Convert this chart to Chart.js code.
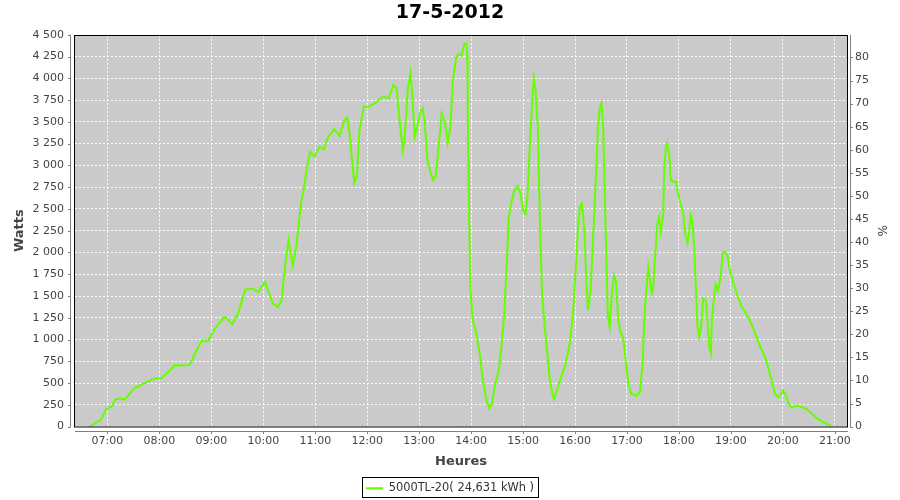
<!DOCTYPE html>
<html><head><meta charset="utf-8">
<script src="https://cdn.jsdelivr.net/npm/chart.js@4.4.1/dist/chart.umd.min.js"></script>
<style>html,body{margin:0;padding:0;background:#fff}#wrap{width:900px;height:500px}</style>
</head><body><div id="wrap"><canvas id="c" width="900" height="500"></canvas></div>
<script>
const chartTitle = '17-5-2012';
const seriesLabel = '5000TL-20( 24,631 kWh )';
const xTitle = 'Heures';
const yTitle = 'Watts';
const y2Title = '%';
const ratedPower = 5300; // W, 100 % on the right axis

const times = [
 '06:39','06:45','06:53','06:59','07:05','07:09','07:14','07:20','07:30','07:43','07:53',
 '08:02','08:10','08:18','08:25','08:35','08:41','08:49','08:56','09:04','09:14','09:17',
 '09:24','09:31','09:39','09:48','09:54','10:02','10:11','10:17','10:21','10:26','10:29',
 '10:34','10:38','10:41','10:44','10:46','10:50','10:54','10:59','11:05','11:10','11:15',
 '11:22','11:28','11:34','11:37','11:40','11:42','11:45','11:48','11:51','11:56','12:01',
 '12:09','12:18','12:25','12:30','12:34','12:37','12:41','12:43','12:47','12:50','12:52',
 '12:55','12:57','13:01','13:04','13:06','13:10','13:16','13:19','13:24','13:26','13:30',
 '13:33','13:36','13:39','13:43','13:46','13:49','13:52','13:54:30','13:55:30','13:56:00',
 '13:56:30','13:57:30','13:59:00','14:01:30','14:06','14:10','14:13','14:17','14:21','14:24',
 '14:27','14:32','14:35','14:38','14:41','14:43:30','14:47','14:50','14:54','14:57','15:00',
 '15:03','15:05','15:07','15:09','15:11','15:12:30','15:14:30','15:17','15:18:30','15:20',
 '15:22','15:25','15:28','15:31','15:33','15:35:30','15:39','15:44','15:49','15:54','15:58',
 '16:01','16:03:30','16:05:30','16:08','16:11','16:13','16:15','16:18','16:20','16:23',
 '16:25','16:26:30','16:28:30','16:30:30','16:32:30','16:34:30','16:36:30','16:38','16:40',
 '16:42','16:45','16:47','16:50','16:52:30','16:55:30','16:58:30','17:01:30','17:05','17:11',
 '17:15','17:18','17:20','17:22','17:24:30','17:26:30','17:28:30','17:30','17:32','17:35',
 '17:37','17:39','17:42','17:43','17:45','17:46:30','17:49','17:50:30','17:53:30','17:56:30',
 '17:59','18:02','18:05','18:07','18:10','18:12','18:13:30','18:15:30','18:18','18:20',
 '18:21:30','18:23:30','18:25:30','18:28','18:31','18:33','18:35','18:37','18:38','18:41',
 '18:42:30','18:45','18:47','18:48:30','18:50:30','18:53','18:56','18:58','19:03','19:07:30',
 '19:12:30','19:16:30','19:22','19:28','19:34','19:39:30','19:43','19:47','19:51','19:55',
 '19:58','20:00:30','20:03:30','20:06:30','20:10:30','20:16','20:22','20:27:30','20:33:30',
 '20:39:30','20:45','20:51','20:55:30'
];
const watts = [
 0,31,88,204,230,311,326,311,434,499,549,
 556,625,706,702,706,837,990,982,1124,1247,1251,
 1174,1304,1573,1585,1546,1661,1412,1373,1450,1911,2141,
 1853,2064,2333,2601,2678,2947,3157,3100,3215,3185,3330,
 3415,3338,3530,3553,3330,3100,2800,2870,3407,3675,3668,
 3714,3790,3772,3925,3887,3560,3177,3292,3887,4067,3790,
 3330,3407,3599,3657,3522,3024,2831,2870,3369,3599,3484,
 3254,3445,3982,4251,4282,4259,4397,4405,4270,3982,
 3082,2524,1642,1240,1067,837,568,337,211,261,
 452,645,913,1258,1834,2409,2601,2716,2763,2678,2486,
 2440,2639,3061,3445,3829,4002,3848,3445,2755,2141,
 1527,1143,837,529,414,319,414,568,721,952,1335,
 1834,2294,2524,2563,2218,1681,1335,1565,1988,2601,
 3061,3445,3657,3714,3445,2601,1796,1258,1143,
 1450,1738,1681,1220,1085,1028,760,491,376,357,
 395,721,1220,1527,1834,1681,1527,1565,1873,2333,
 2409,2236,2448,2985,3215,3254,3100,2831,2812,2812,
 2678,2563,2448,2218,2110,2256,2429,2371,1988,1488,
 1143,1028,1143,1470,1450,1220,913,837,1220,1527,
 1634,1565,1661,1757,1988,2007,1968,1834,1642,1508,
 1373,1316,1220,1067,913,798,683,529,376,337,
 376,414,357,261,215,242,222,204,146,
 96,58,31,12
];
const hourTicks = [7,8,9,10,11,12,13,14,15,16,17,18,19,20,21];
const xMin = 6.375, xMax = 21.235;
const wattMax = 4500, wattStep = 250, pctStep = 5;

function toHours(t){ const p=t.split(':').map(Number); return p[0]+p[1]/60+(p[2]||0)/3600; }
const points = times.map((t,i)=>({x:toHours(t), y:watts[i]}));
const fmtThousands = v => String(v).replace(/\B(?=(\d{3})+(?!\d))/g,' ');
const fmtHour = v => (v<10?'0':'')+v+':00';

const FONT = 'DejaVu Sans';
Chart.defaults.font.family = FONT;

const plotDeco = {
  id:'plotDeco',
  beforeDraw(chart){
    const {ctx, chartArea:a} = chart;
    ctx.save();
    ctx.fillStyle='#ffffff'; ctx.fillRect(0,0,chart.width,chart.height);
    ctx.fillStyle='#cacaca'; ctx.fillRect(a.left,a.top,a.right-a.left,a.bottom-a.top);
    ctx.restore();
  },
  afterDatasetsDraw(chart){
    const {ctx, chartArea:a, scales} = chart;
    ctx.save();
    ctx.strokeStyle='#000'; ctx.lineWidth=1;
    ctx.strokeRect(Math.round(a.left)-0.5, Math.round(a.top)+0.5, Math.round(a.right-a.left)+1, Math.round(a.bottom-a.top)-0.5);
    ctx.strokeStyle='#808080';
    const L = Math.round(a.left)-4.5, R = Math.round(a.right)+3.5, B = Math.round(a.bottom)+4.5;
    ctx.beginPath();
    ctx.moveTo(L, a.top); ctx.lineTo(L, a.bottom+1);
    scales.y.ticks.forEach(t=>{const y=Math.round(scales.y.getPixelForValue(t.value))+0.5; ctx.moveTo(L-2.5,y); ctx.lineTo(L,y);});
    ctx.moveTo(R, a.top); ctx.lineTo(R, a.bottom+1);
    scales.y2.ticks.forEach(t=>{const y=Math.round(scales.y2.getPixelForValue(t.value))+0.5; ctx.moveTo(R,y); ctx.lineTo(R+2.5,y);});
    ctx.moveTo(a.left, B); ctx.lineTo(a.right+1, B);
    scales.x.ticks.forEach(t=>{const x=Math.round(scales.x.getPixelForValue(t.value))+0.5; ctx.moveTo(x,B); ctx.lineTo(x,B+2.5);});
    ctx.stroke();
    ctx.restore();
  },
  afterDraw(chart){
    const lg = chart.legend;
    if(!lg || !lg.legendHitBoxes || !lg.legendHitBoxes.length) return;
    const h = lg.legendHitBoxes[0];
    const ctx = chart.ctx;
    ctx.save();
    ctx.strokeStyle='#000'; ctx.lineWidth=1;
    const cy = h.top + h.height/2;
    ctx.strokeRect(Math.round(h.left)-3.5, Math.round(cy)-10.5, Math.round(h.width)+8, 20);
    ctx.restore();
  }
};

new Chart(document.getElementById('c'), {
  type:'line',
  data:{ datasets:[{
    label: seriesLabel,
    data: points,
    yAxisID:'y',
    borderColor:'#66ff00',
    backgroundColor:'#66ff00',
    borderWidth:2,
    pointRadius:0,
    tension:0,
    fill:false
  }]},
  options:{
    responsive:false,
    devicePixelRatio:1,
    animation:false,
    parsing:false,
    layout:{padding:{top:0,left:0,right:0,bottom:-4}},
    plugins:{
      title:{display:true,text:chartTitle,color:'#000',font:{family:FONT,size:19,weight:'bold'},padding:{top:2,bottom:10}},
      legend:{display:true,position:'bottom',
        labels:{usePointStyle:true,pointStyle:'line',pointStyleWidth:17,boxHeight:12,padding:8,color:'#333',font:{family:FONT,size:11.4}}},
      tooltip:{enabled:false}
    },
    scales:{
      x:{type:'linear',position:'bottom',min:xMin,max:xMax,
        afterBuildTicks:s=>{s.ticks=hourTicks.map(v=>({value:v}));},
        ticks:{callback:fmtHour,color:'#444',font:{family:FONT,size:11},padding:8,maxRotation:0,autoSkip:false},
        grid:{color:'#ffffff',lineWidth:1,drawTicks:false,borderDash:[2,2]},
        border:{display:false,dash:[2,2]},
        title:{display:true,text:xTitle,color:'#444',font:{family:FONT,size:13,weight:'bold'},padding:{top:0,bottom:5}},
        afterFit:s=>{s.height=48;}
      },
      y:{type:'linear',position:'left',min:0,max:wattMax,
        ticks:{stepSize:wattStep,callback:fmtThousands,color:'#444',font:{family:FONT,size:11},padding:11},
        grid:{color:'#ffffff',lineWidth:1,drawTicks:false,borderDash:[2,2]},
        border:{display:false,dash:[2,2]},
        title:{display:true,text:yTitle,color:'#444',font:{family:FONT,size:13,weight:'bold'},padding:{top:12,bottom:0}},
        afterFit:s=>{s.width=75;}
      },
      y2:{type:'linear',position:'right',min:0,max:wattMax/ratedPower*100,
        ticks:{stepSize:pctStep,includeBounds:false,color:'#444',font:{family:FONT,size:11},padding:8},
        grid:{display:false,drawTicks:false},
        border:{display:false},
        title:{display:true,text:y2Title,color:'#444',font:{family:FONT,size:12},padding:{top:12,bottom:0}},
        afterFit:s=>{s.width=53;}
      }
    }
  },
  plugins:[plotDeco]
});
</script>
</body></html>
